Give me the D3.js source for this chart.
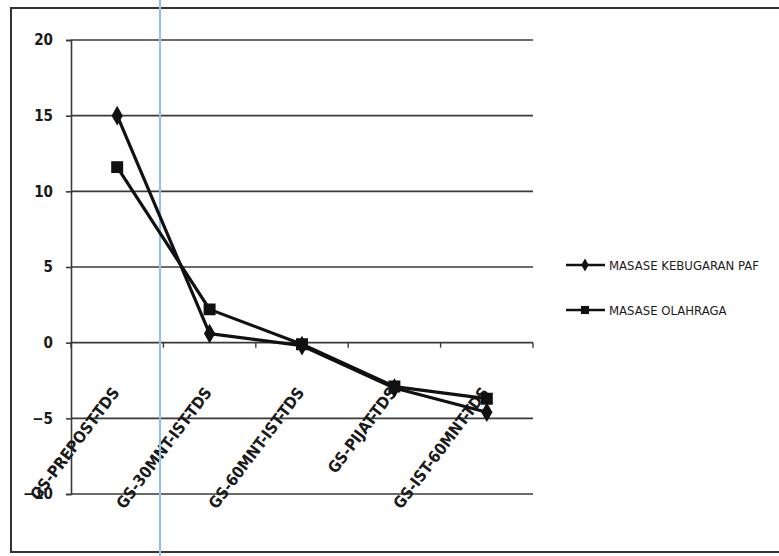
<!DOCTYPE html>
<html>
<head>
<meta charset="utf-8">
<script src="https://d3js.org/d3.v7.min.js"></script>
<style>
  html, body { margin: 0; padding: 0; background: #fff; }
  svg { display: block; }
</style>
</head>
<body>
<svg id="chart" width="779" height="556"></svg>
<script>
// Categories along the horizontal axis
const categories = [
  "GS-PREPOST-TDS",
  "GS-30MNT-IST-TDS",
  "GS-60MNT-IST-TDS",
  "GS-PIJAT-TDS",
  "GS-IST-60MNT-TDS"
];

// Series values
const seriesNames = ["MASASE KEBUGARAN PAF", "MASASE OLAHRAGA"];
const kebugaranPaf = [15, 0.6, -0.2, -3.0, -4.6];
const olahraga = [11.6, 2.2, -0.1, -2.9, -3.7];

// Value-axis ticks
const yTicks = [-10, -5, 0, 5, 10, 15, 20];

const font = "'DejaVu Sans Condensed', 'Liberation Sans Narrow', 'Liberation Sans', sans-serif";
const svg = d3.select("#chart");

// Outer chart frame
svg.append("rect")
  .attr("x", 11).attr("y", 8)
  .attr("width", 820).attr("height", 544)
  .attr("fill", "none").attr("stroke", "#333").attr("stroke-width", 2);

const plot = { left: 71, right: 533, top: 40, bottom: 494 };

const y = d3.scaleLinear().domain([-10, 20]).range([plot.bottom, plot.top]);
const x = d3.scalePoint().domain(categories).range([plot.left, plot.right]).padding(0.5);
const step = x.step();

// Horizontal gridlines
svg.append("g")
  .selectAll("line")
  .data(yTicks)
  .join("line")
  .attr("x1", plot.left).attr("x2", plot.right)
  .attr("y1", d => y(d)).attr("y2", d => y(d))
  .attr("stroke", "#3a3a3a").attr("stroke-width", 1.6);

// Value axis
const yAxis = svg.append("g")
  .attr("transform", `translate(${plot.left},0)`)
  .call(d3.axisLeft(y).tickValues(yTicks).tickSize(5).tickPadding(13).tickFormat(d3.format("d")));
yAxis.select(".domain").attr("stroke", "#3a3a3a").attr("stroke-width", 1.6);
yAxis.selectAll(".tick line").attr("stroke", "#3a3a3a").attr("stroke-width", 1.6);
yAxis.selectAll("text")
  .attr("font-family", font).attr("font-weight", "bold")
  .attr("font-size", 15).attr("fill", "#1a1a1a");

// Category axis crossing at zero: tick marks between categories
const boundaries = d3.range(categories.length + 1).map(i => plot.left + i * step);
svg.append("g")
  .selectAll("line")
  .data(boundaries)
  .join("line")
  .attr("x1", d => d).attr("x2", d => d)
  .attr("y1", y(0)).attr("y2", y(0) + 5)
  .attr("stroke", "#3a3a3a").attr("stroke-width", 1.4);

// Rotated category labels
svg.append("g")
  .selectAll("text")
  .data(categories)
  .join("text")
  .attr("transform", d => `translate(${x(d) + 3},${y(0) + 50}) rotate(-53)`)
  .attr("text-anchor", "end")
  .attr("font-family", font).attr("font-weight", "bold")
  .attr("font-size", 16).attr("fill", "#1a1a1a")
  .text(d => d);

// Vertical blue guide line
svg.append("line")
  .attr("x1", 160).attr("x2", 160)
  .attr("y1", 0).attr("y2", 556)
  .attr("stroke", "#8cc2ee").attr("stroke-width", 2);

const series = [
  { name: seriesNames[0], values: kebugaranPaf, symbol: d3.symbolDiamond, size: 80 },
  { name: seriesNames[1], values: olahraga, symbol: d3.symbolSquare, size: 110 }
];

const line = d3.line().x((d, i) => x(categories[i])).y(d => y(d));

series.forEach(s => {
  svg.append("path")
    .datum(s.values)
    .attr("d", line)
    .attr("fill", "none").attr("stroke", "#111").attr("stroke-width", 3.2)
    .attr("stroke-linejoin", "round");
  svg.append("g")
    .selectAll("path")
    .data(s.values)
    .join("path")
    .attr("transform", (d, i) => `translate(${x(categories[i])},${y(d)})`)
    .attr("d", d3.symbol(s.symbol, s.size))
    .attr("fill", "#111").attr("stroke", "#111").attr("stroke-width", 1.5);
});

// Legend
const legend = svg.append("g");
series.forEach((s, i) => {
  const ly = 265 + i * 45;
  legend.append("line")
    .attr("x1", 566).attr("x2", 605).attr("y1", ly).attr("y2", ly)
    .attr("stroke", "#111").attr("stroke-width", 2.5);
  legend.append("path")
    .attr("transform", `translate(585,${ly})`)
    .attr("d", d3.symbol(s.symbol, s.size * 0.6))
    .attr("fill", "#111");
  legend.append("text")
    .attr("x", 609).attr("y", ly).attr("dy", "0.35em")
    .attr("font-family", font).attr("font-size", 13)
    .attr("fill", "#1a1a1a")
    .text(s.name);
});
</script>
</body>
</html>
